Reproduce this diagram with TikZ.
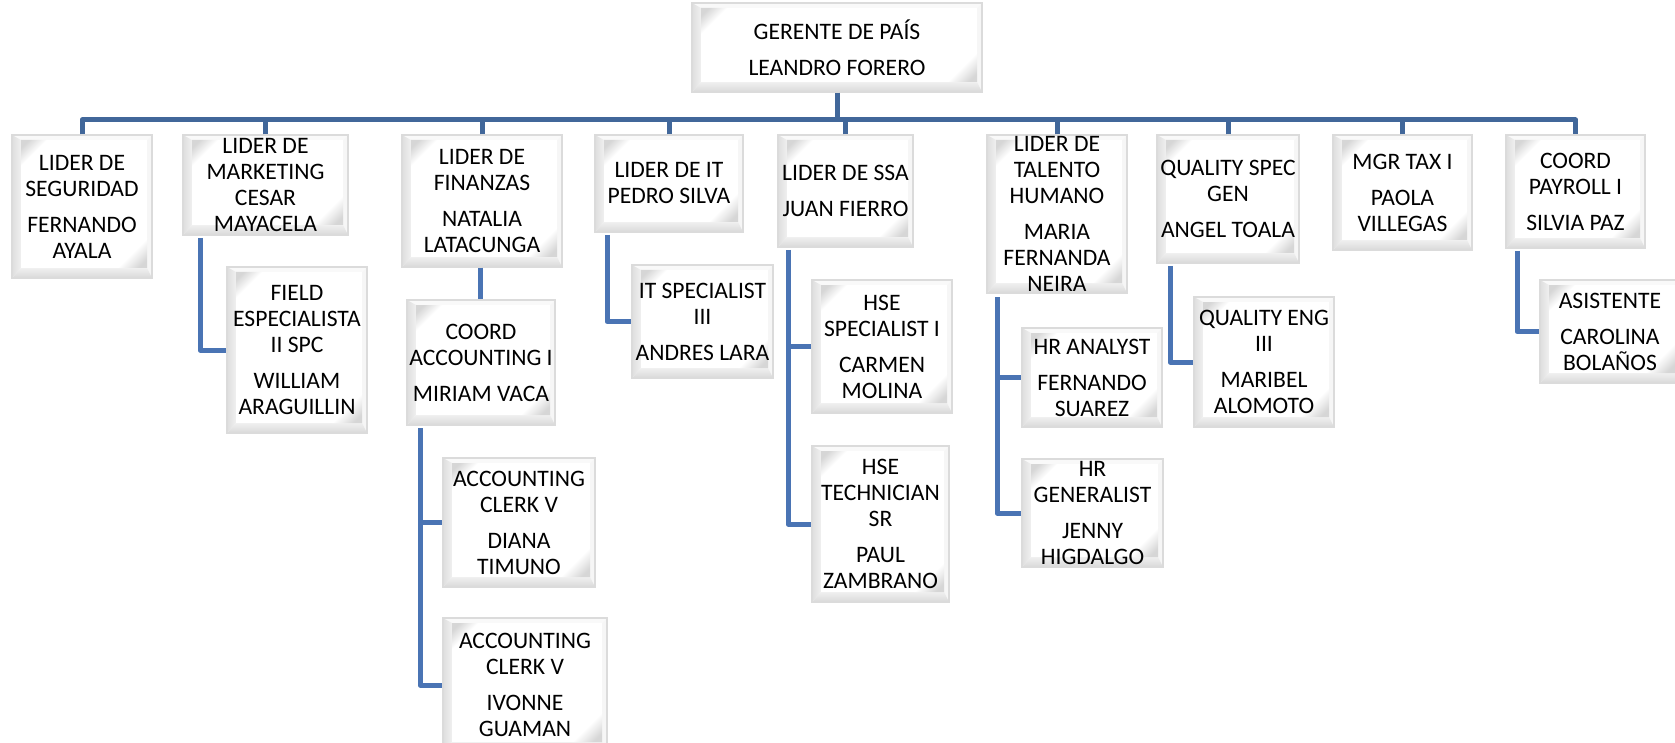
\documentclass[tikz,border=0pt]{standalone}
\usepackage{fontspec}
\setmainfont{Carlito}
\usetikzlibrary{calc,shadings}

\definecolor{busblue}{HTML}{41679A}
\definecolor{subblue}{HTML}{4A74B4}

\tikzset{
  x=1pt, y=-1pt,
  bevelbox/.style={
    draw=gray!28, line width=1.2pt, fill=white, inner sep=0pt,
    path picture={
      \path (path picture bounding box.south west) coordinate (bsw)
            (path picture bounding box.north east) coordinate (bne);
      \path (bsw) ++(9pt,10pt) coordinate (isw);
      \path (bne) ++(-5pt,-5pt) coordinate (ine);
      % bevel strips
      \fill[gray!5] (bsw |- bne) -- (bne) -- (ine) -- (isw |- ine) -- cycle;
      \fill[gray!7] (bne) -- (bne |- bsw) -- (ine |- isw) -- (ine) -- cycle;
      \shade[top color=gray!12, bottom color=gray!30]
        (bsw) -- (bne |- bsw) -- (ine |- isw) -- (isw) -- cycle;
      \shade[left color=gray!26, right color=gray!12]
        (bsw) -- (bsw |- bne) -- (isw |- ine) -- (isw) -- cycle;
      % face with soft corner wedges
      \fill[white] (isw) rectangle (ine);
      \shade[top color=gray!32, bottom color=white, middle color=white, shading angle=45]
        (isw |- ine) -- ++(26pt,0pt) -- ++(-26pt,-26pt) -- cycle;
      \shade[top color=white, bottom color=gray!32, middle color=white, shading angle=45]
        (ine |- isw) -- ++(-30pt,0pt) -- ++(30pt,30pt) -- cycle;
    }},
  boxtext/.style={font=\fontsize{23.6}{26}\selectfont, align=center, inner sep=0pt},
  busline/.style={draw=busblue, line width=5pt, line join=round},
  subline/.style={draw=subblue, line width=5pt, line join=round},
}

% \orgbox{name}{x1}{y1}{x2}{y2}{text}
\newcommand\orgbox[6]{%
  \node[bevelbox, minimum width={(#4-#2)*1pt}, minimum height={(#5-#3)*1pt}]
    (#1) at ({(#2+#4)/2},{(#3+#5)/2}) {};
  \node[boxtext] (#1-t) at (#1.center) {#6};
}

\begin{document}
\begin{tikzpicture}
\useasboundingbox (0,0) rectangle (1675,743);

% top
\orgbox{ger}{692}{3}{982}{92}{GERENTE DE PAÍS\\[10pt]LEANDRO FORERO}

% first level
\orgbox{seg}{12}{135}{152}{278}{LIDER DE\\SEGURIDAD\\[10pt]FERNANDO\\AYALA}
\orgbox{mkt}{183}{135}{348}{235}{LIDER DE\\MARKETING\\CESAR\\MAYACELA}
\orgbox{fin}{402}{135}{562}{267}{LIDER DE\\FINANZAS\\[10pt]NATALIA\\LATACUNGA}
\orgbox{it}{595}{135}{743}{232}{LIDER DE IT\\PEDRO SILVA}
\orgbox{ssa}{778}{135}{913}{247}{LIDER DE SSA\\[10pt]JUAN FIERRO}
\orgbox{tal}{987}{135}{1127}{293}{LIDER DE\\TALENTO\\HUMANO\\[10pt]MARIA\\FERNANDA\\NEIRA}
\orgbox{qs}{1157}{135}{1299}{263}{QUALITY SPEC\\GEN\\[10pt]ANGEL TOALA}
\orgbox{tax}{1333}{135}{1472}{250}{MGR TAX I\\[10pt]PAOLA\\VILLEGAS}
\orgbox{pay}{1506}{135}{1645}{248}{COORD\\PAYROLL I\\[10pt]SILVIA PAZ}

% second level
\orgbox{fld}{227}{267}{367}{433}{FIELD\\ESPECIALISTA\\II SPC\\[10pt]WILLIAM\\ARAGUILLIN}
\orgbox{coo}{407}{300}{555}{425}{COORD\\ACCOUNTING I\\[10pt]MIRIAM VACA}
\orgbox{its}{632}{265}{773}{378}{IT SPECIALIST\\III\\[10pt]ANDRES LARA}
\orgbox{hsea}{812}{280}{952}{413}{HSE\\SPECIALIST I\\[10pt]CARMEN\\MOLINA}
\orgbox{hseb}{812}{446}{949}{602}{HSE\\TECHNICIAN\\SR\\[10pt]PAUL\\ZAMBRANO}
\orgbox{hra}{1022}{328}{1162}{427}{HR ANALYST\\[10pt]FERNANDO\\SUAREZ}
\orgbox{hrg}{1022}{459}{1163}{567}{HR\\GENERALIST\\[10pt]JENNY\\HIGDALGO}
\orgbox{qe}{1194}{297}{1334}{427}{QUALITY ENG\\III\\[10pt]MARIBEL\\ALOMOTO}
\orgbox{asi}{1540}{280}{1680}{383}{ASISTENTE\\[10pt]CAROLINA\\BOLAÑOS}

% third level
\orgbox{acca}{443}{458}{595}{587}{ACCOUNTING\\CLERK V\\[10pt]DIANA\\TIMUNO}
\orgbox{accb}{443}{618}{607}{752}{ACCOUNTING\\CLERK V\\[10pt]IVONNE\\GUAMAN}

% main bus
\coordinate (bus) at (0,120);
\draw[busline] (ger.south) -- (ger.south |- bus);
\draw[busline] (seg.north) -- (seg.north |- bus) -- (pay.north |- bus) -- (pay.north);
\foreach \n in {mkt,fin,it,ssa,tal,qs,tax}
  \draw[busline] (\n.north) -- (\n.north |- bus);

% trunk tops below each parent
\coordinate (mkt-v) at (200,238);
\coordinate (coo-v) at (420,428);
\coordinate (it-v)  at (607,235);
\coordinate (ssa-v) at (788,250);
\coordinate (tal-v) at (997,297);
\coordinate (qs-v)  at (1170,266);
\coordinate (pay-v) at (1517,251);

\draw[subline] (mkt-v) |- (fld.west);
\draw[subline] (fin.south) ++(-2,0) coordinate (fin-s) -- (fin-s |- coo.north);
\draw[subline] (coo-v) |- (accb.west);
\draw[subline] (coo-v |- acca.west) -- (acca.west);
\draw[subline] (it-v) |- (its.west);
\draw[subline] (ssa-v) |- (hseb.west);
\draw[subline] (ssa-v |- hsea.west) -- (hsea.west);
\draw[subline] (tal-v) |- (hrg.west);
\draw[subline] (tal-v |- hra.west) -- (hra.west);
\draw[subline] (qs-v) |- (qe.west);
\draw[subline] (pay-v) |- (asi.west);
\end{tikzpicture}
\end{document}
